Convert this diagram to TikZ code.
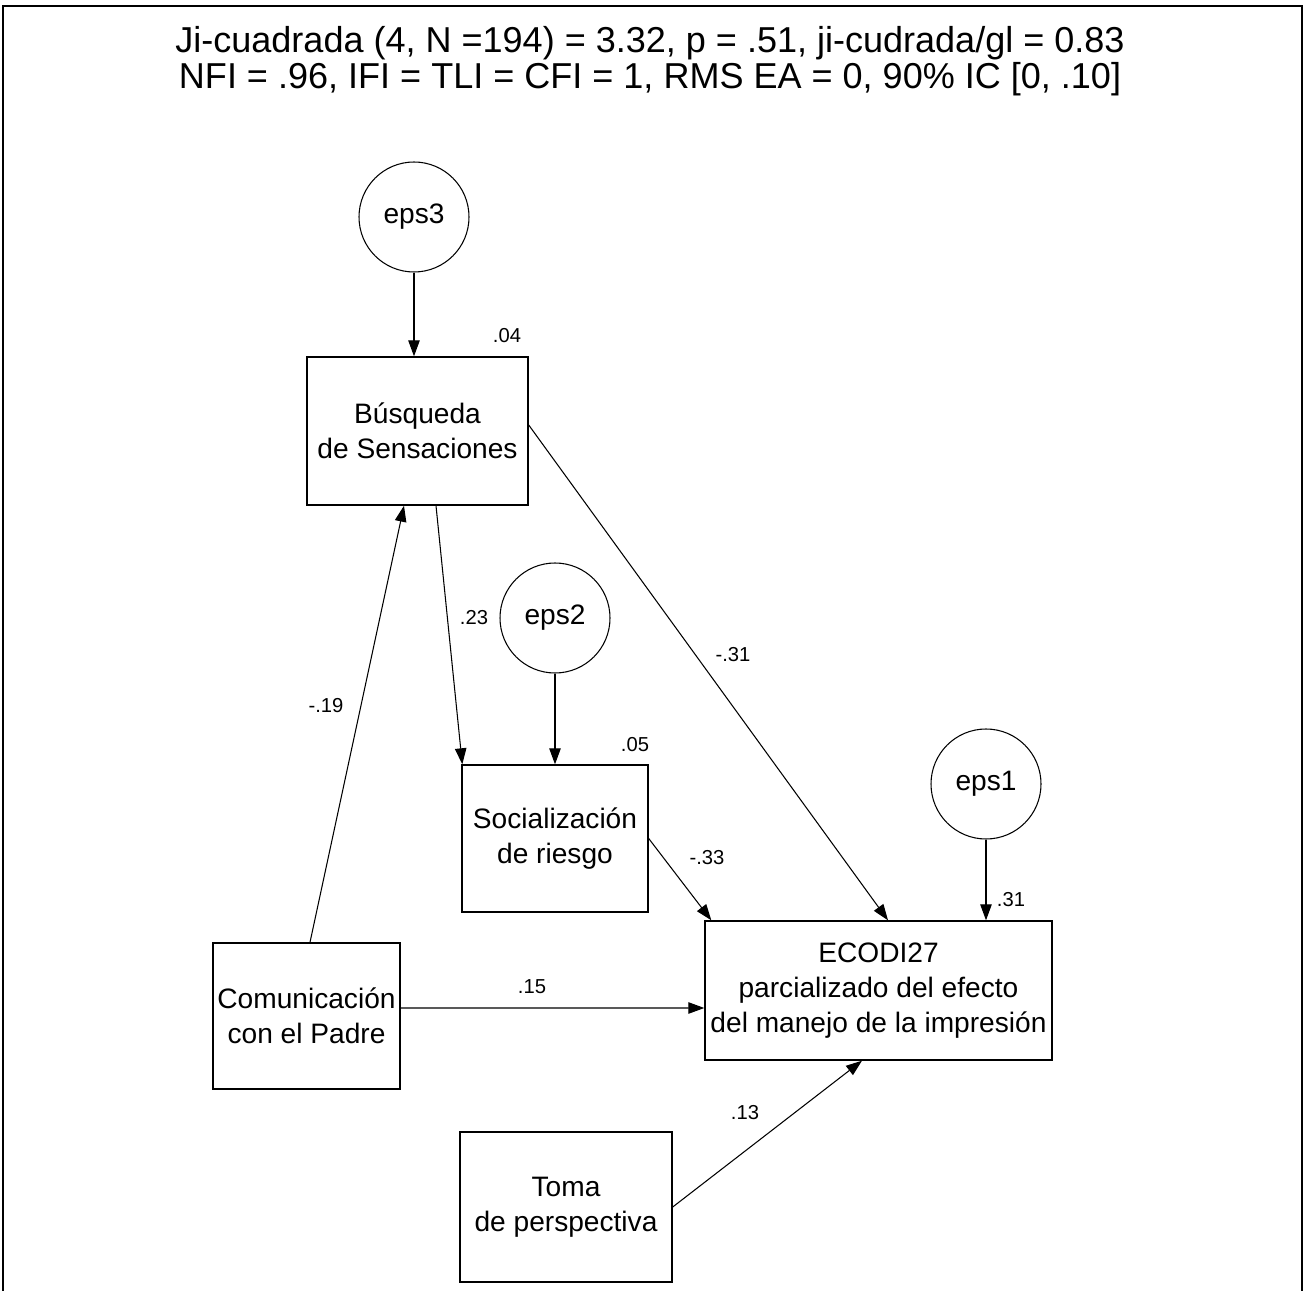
\documentclass[tikz,border=0pt]{standalone}
\usepackage{fontspec}
\setmainfont{Liberation Sans}
\usetikzlibrary{arrows.meta}

\begin{document}
\begin{tikzpicture}[
    x=0.2mm, y=-0.2mm,
    font=\fontsize{16}{20}\selectfont,
    var/.style={draw, line width=0.8pt, align=center, inner sep=0pt},
    err/.style={draw, circle, line width=0.6pt, minimum size=22mm, inner sep=0pt},
    path/.style={line width=0.6pt, -{Triangle[length=3.2mm, width=2.3mm]}},
    coef/.style={font=\fontsize{11.5}{13}\selectfont, inner sep=0pt}
]

    % Page size and frame (open at the bottom)
    \useasboundingbox (0,0) rectangle (1306,1291);
    \draw[line width=1pt] (3,1291) -- (3,6) -- (1302,6) -- (1302,1291);

    % Fit statistics
    \node[align=center, font=\fontsize{20.5}{20.4}\selectfont] (fit) at (650,61)
        {Ji-cuadrada (4, N =194) = 3.32, p = .51, ji-cudrada/gl = 0.83\\
         NFI = .96, IFI = TLI = CFI = 1, RMS EA = 0, 90\% IC [0, .10]};

    % Observed variables
    \node[var, minimum width=44.2mm, minimum height=29.6mm] (bus) at (417.5,431)
        {Búsqueda\\de Sensaciones};
    \node[var, minimum width=37.2mm, minimum height=29.4mm] (soc) at (555,838.5)
        {Socialización\\de riesgo};
    \node[var, minimum width=69.4mm, minimum height=27.8mm] (eco) at (878.5,990.5)
        {ECODI27\\parcializado del efecto\\del manejo de la impresión};
    \node[var, minimum width=37.4mm, minimum height=29.2mm] (com) at (306.5,1016)
        {Comunicación\\con el Padre};
    \node[var, minimum width=42.4mm, minimum height=30mm] (toma) at (566,1207)
        {Toma\\de perspectiva};

    % Error terms
    \node[err] (eps3) at (414,217) {eps3};
    \node[err] (eps2) at (555,618) {eps2};
    \node[err] (eps1) at (986,784) {eps1};

    % Paths
    \draw[path] (eps3) -- (eps3 |- bus.north);
    \draw[path] (eps2) -- (eps2 |- soc.north);
    \draw[path] (eps1) -- (eps1 |- eco.north);
    \draw[path] ([xshift=3.7mm]bus.south) -- ([xshift=0.2mm]soc.north west);
    \draw[path] ([xshift=0.7mm]com.north) -- ([xshift=-2.7mm]bus.south);
    \draw[path] ([yshift=1.2mm]bus.east) -- ([xshift=1.9mm]eco.north);
    \draw[path] (soc.east) -- ([xshift=1.4mm]eco.north west);
    \draw[path] ([yshift=1.6mm]com.east) -- ([yshift=-3.5mm]eco.west);
    \draw[path] (toma.east) -- ([xshift=-3.3mm]eco.south);

    % Coefficients and squared multiple correlations
    \node[coef] (r2bus) at (507,336) {.04};
    \node[coef] (r2soc) at (635,745) {.05};
    \node[coef] (r2eco) at (1011,900) {.31};
    \node[coef] (bbussoc) at (474,618) {.23};
    \node[coef] (bcombus) at (326,706) {-.19};
    \node[coef] (bbuseco) at (733,655) {-.31};
    \node[coef] (bsoceco) at (707,858) {-.33};
    \node[coef] (bcomeco) at (532,987) {.15};
    \node[coef] (btomeco) at (745,1113) {.13};

\end{tikzpicture}
\end{document}
